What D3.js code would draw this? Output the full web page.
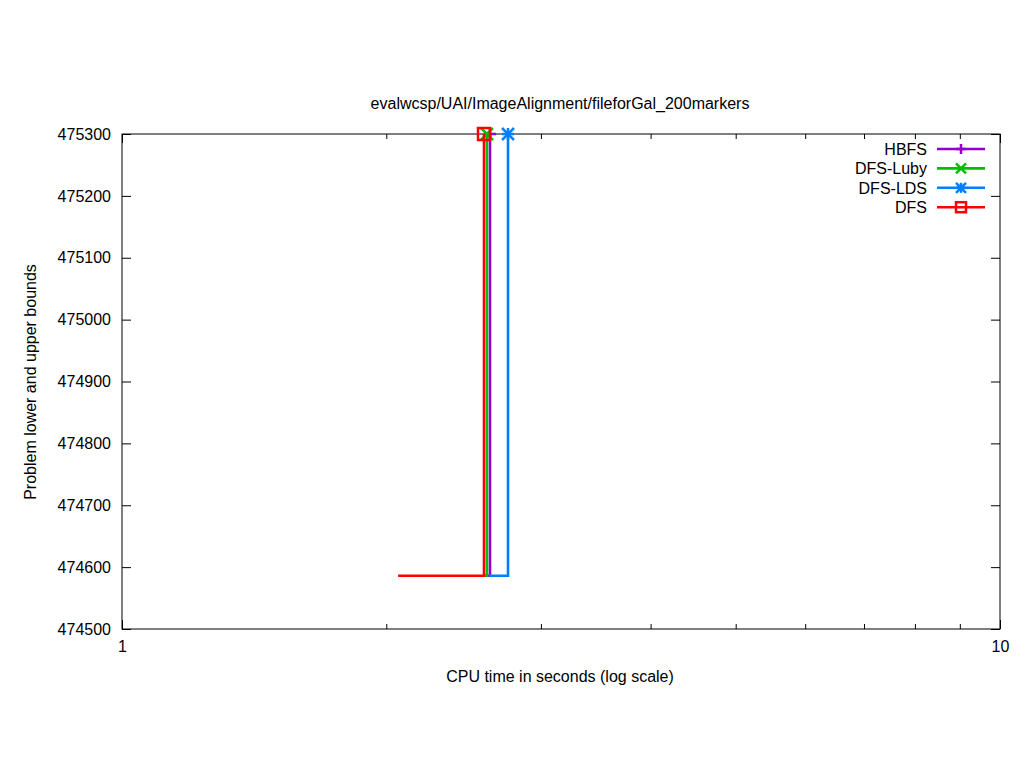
<!DOCTYPE html>
<html><head><meta charset="utf-8">
<script src="https://cdn.jsdelivr.net/npm/d3@7"></script>
<style>body{margin:0;background:#fff}svg{display:block}text{font-family:"Liberation Sans",Arial,sans-serif;font-size:16px;fill:#000}</style>
</head><body><svg id="c" width="1024" height="768"></svg>
<script>
const title = "evalwcsp/UAI/ImageAlignment/fileforGal_200markers";
const xLabel = "CPU time in seconds (log scale)";
const yLabel = "Problem lower and upper bounds";
const seriesNames = ["HBFS", "DFS-Luby", "DFS-LDS", "DFS"];
const seriesColors = ["#9400d3", "#00c000", "#0080ff", "#ff0000"];
const seriesMarkers = ["plus", "cross", "star", "square"];
const hbfsX = [2.58, 2.625, 2.625];
const hbfsY = [474586, 474586, 475300];
const lubyX = [2.58, 2.604, 2.604];
const lubyY = [474586, 474586, 475300];
const ldsX = [2.62, 2.752, 2.752];
const ldsY = [474586, 474586, 475300];
const dfsX = [2.063, 2.584, 2.584];
const dfsY = [474586, 474586, 475300];
const yTicks = [474500, 474600, 474700, 474800, 474900, 475000, 475100, 475200, 475300];
const xMajorTicks = [1, 10];
const xMinorTicks = [2, 3, 4, 5, 6, 7, 8, 9];

const allX = [hbfsX, lubyX, ldsX, dfsX];
const allY = [hbfsY, lubyY, ldsY, dfsY];

const svg = d3.select("#c");
const L = 122, R = 1000, T = 134, B = 629;
const x = d3.scaleLog().domain([1, 10]).range([L, R]);
const y = d3.scaleLinear().domain([474500, 475300]).range([B, T]);
const FONT = '"Liberation Sans",Arial,sans-serif';

const g = svg.append("g");
g.append("g").attr("transform", `translate(0,${B})`)
  .call(d3.axisBottom(x).tickValues(xMajorTicks).tickSize(-9).tickFormat(d3.format("d")).tickPadding(12));
g.append("g").attr("transform", `translate(0,${B})`)
  .call(d3.axisBottom(x).tickValues(xMinorTicks).tickSize(-5).tickFormat(""));
g.append("g").attr("transform", `translate(0,${T})`)
  .call(d3.axisTop(x).tickValues(xMajorTicks).tickSize(-9).tickFormat(""));
g.append("g").attr("transform", `translate(0,${T})`)
  .call(d3.axisTop(x).tickValues(xMinorTicks).tickSize(-5).tickFormat(""));
g.append("g").attr("transform", `translate(${L},0)`)
  .call(d3.axisLeft(y).tickValues(yTicks).tickSize(-9).tickFormat(d3.format("d")).tickPadding(11));
g.append("g").attr("transform", `translate(${R},0)`)
  .call(d3.axisRight(y).tickValues(yTicks).tickSize(-9).tickFormat(""));
g.selectAll(".domain").remove();
g.selectAll("line").attr("stroke", "#000");
g.selectAll("text").style("font-size", "16px").style("font-family", FONT);
svg.append("rect").attr("x", L).attr("y", T).attr("width", R - L).attr("height", B - T)
  .attr("fill", "none").attr("stroke", "#000").attr("stroke-width", 1);

function marker(sel, type, cx, cy, color, s) {
  const p = sel.append("g").attr("stroke", color).attr("stroke-width", 2.5).attr("fill", "none");
  if (type === "plus" || type === "star") {
    p.append("line").attr("x1", cx - s).attr("x2", cx + s).attr("y1", cy).attr("y2", cy);
    p.append("line").attr("x1", cx).attr("x2", cx).attr("y1", cy - s).attr("y2", cy + s);
  }
  if (type === "cross" || type === "star") {
    p.append("line").attr("x1", cx - s).attr("x2", cx + s).attr("y1", cy - s).attr("y2", cy + s);
    p.append("line").attr("x1", cx - s).attr("x2", cx + s).attr("y1", cy + s).attr("y2", cy - s);
  }
  if (type === "square") {
    p.append("rect").attr("x", cx - s).attr("y", cy - s).attr("width", 2 * s).attr("height", 2 * s);
  }
}

const line = d3.line().x(d => x(d[0])).y(d => y(d[1]));
seriesNames.forEach((name, i) => {
  const pts = allX[i].map((v, j) => [v, allY[i][j]]);
  svg.append("path").datum(pts).attr("d", line).attr("fill", "none")
    .attr("stroke", seriesColors[i]).attr("stroke-width", 2.6);
  const last = pts[pts.length - 1];
  marker(svg, seriesMarkers[i], x(last[0]), y(last[1]), seriesColors[i], 6);
  const ly = 149 + i * 19.4;
  svg.append("text").attr("x", 927).attr("y", ly + 6).attr("text-anchor", "end").text(name);
  svg.append("line").attr("x1", 937).attr("x2", 985).attr("y1", ly).attr("y2", ly)
    .attr("stroke", seriesColors[i]).attr("stroke-width", 2.6);
  marker(svg, seriesMarkers[i], 961, ly, seriesColors[i], 5);
});

svg.append("text").attr("x", 560).attr("y", 109).attr("text-anchor", "middle").text(title);
svg.append("text").attr("x", 560).attr("y", 682).attr("text-anchor", "middle").text(xLabel);
svg.append("text").attr("transform", "translate(36,382) rotate(-90)").attr("text-anchor", "middle").text(yLabel);
</script></body></html>
